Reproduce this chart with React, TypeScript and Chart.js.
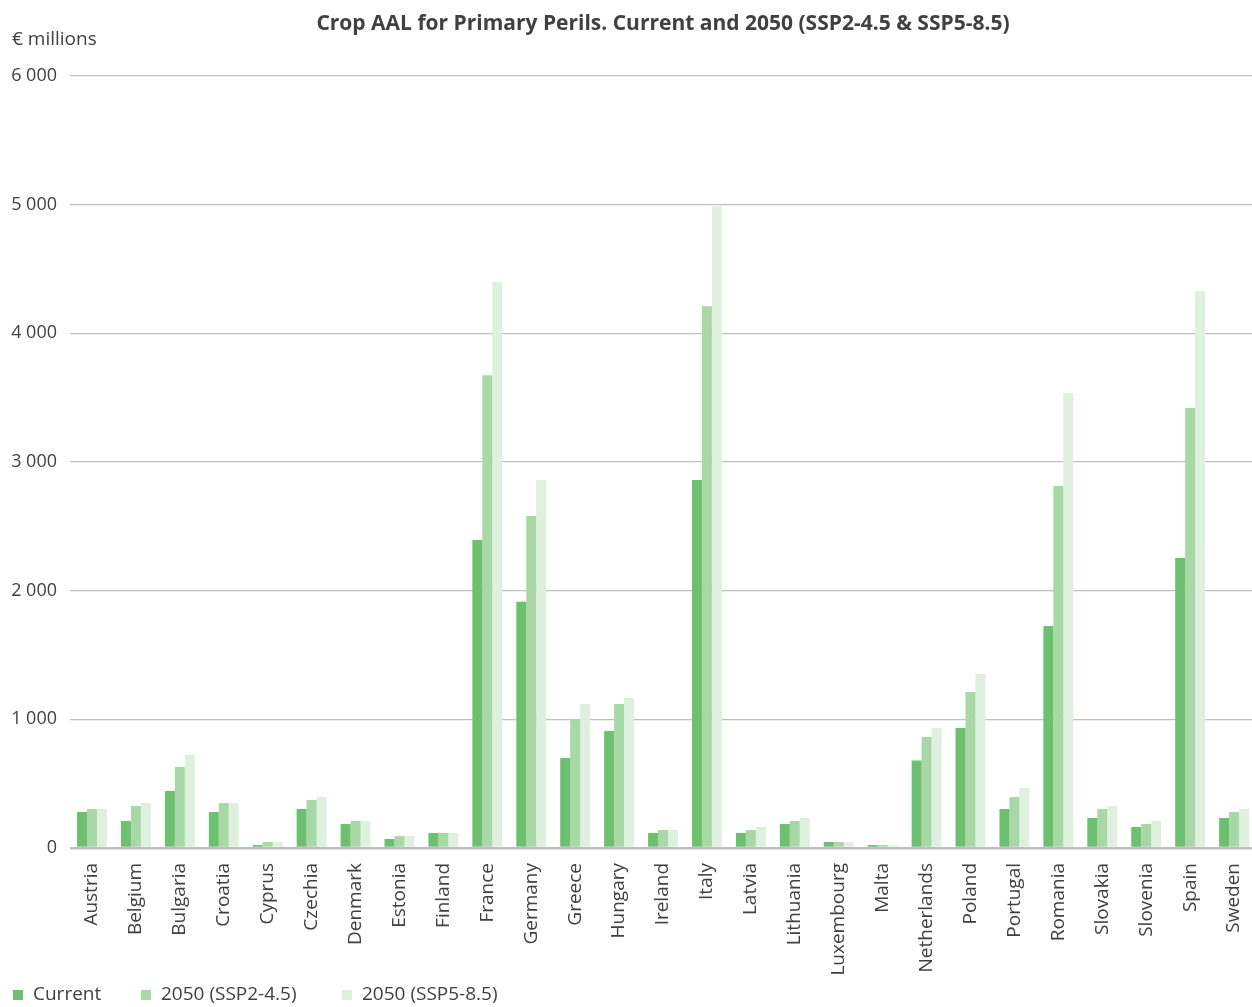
import React, { useEffect, useRef } from "react";
import { Chart, registerables } from "chart.js";

Chart.register(...registerables);

const countries = [
  "Austria", "Belgium", "Bulgaria", "Croatia", "Cyprus", "Czechia", "Denmark", "Estonia", "Finland",
  "France", "Germany", "Greece", "Hungary", "Ireland", "Italy", "Latvia", "Lithuania", "Luxembourg",
  "Malta", "Netherlands", "Poland", "Portugal", "Romania", "Slovakia", "Slovenia", "Spain", "Sweden",
];

const current = [
  280, 210, 443, 280, 23, 303, 186, 70, 117,
  2393, 1914, 700, 909, 117, 2860, 117, 186, 47,
  23, 680, 932, 303, 1725, 233, 163, 2253, 233,
];

const ssp245 = [
  303, 326, 630, 350, 47, 373, 210, 93, 117,
  3675, 2580, 1002, 1119, 140, 4211, 140, 210, 47,
  23, 862, 1212, 396, 2813, 303, 186, 3419, 280,
];

const ssp585 = [
  303, 350, 723, 350, 47, 396, 210, 93, 117,
  4398, 2860, 1119, 1165, 140, 4988, 163, 233, 47,
  20, 932, 1352, 466, 3535, 326, 210, 4328, 303,
];

const seriesNames = ["Current", "2050 (SSP2-4.5)", "2050 (SSP5-8.5)"];
const seriesColors = ["#6CC070", "#A8D8A6", "#DFF0DF"];
const yTicks = [0, 1000, 2000, 3000, 4000, 5000, 6000];

const titleText = "Crop AAL for Primary Perils. Current and 2050 (SSP2-4.5 & SSP5-8.5)";
const unitText = "€ millions";

const FONT = "'Open Sans', 'Noto Sans', sans-serif";
const TEXT_COLOR = "#404040";

const fmt = (v: number) => {
  const s = Math.round(v).toString();
  return s.replace(/\B(?=(\d{3})+(?!\d))/g, " ");
};

const decorPlugin = {
  id: "decor",
  afterDraw(chart: any) {
    const ctx = chart.ctx as CanvasRenderingContext2D;
    ctx.save();
    ctx.fillStyle = TEXT_COLOR;
    // title
    ctx.font = `bold 21px ${FONT}`;
    ctx.textAlign = "center";
    ctx.textBaseline = "middle";
    ctx.fillText(titleText, 663, 24);
    // unit
    ctx.font = `19px ${FONT}`;
    ctx.textAlign = "left";
    ctx.fillText(unitText, 12, 40);
    // legend
    const legendX = [13, 141, 342];
    const ly = 995;
    ctx.font = `19px ${FONT}`;
    seriesNames.forEach((name, i) => {
      ctx.fillStyle = seriesColors[i];
      ctx.fillRect(legendX[i], ly - 5, 10, 10);
      ctx.fillStyle = TEXT_COLOR;
      ctx.textAlign = "left";
      ctx.textBaseline = "middle";
      ctx.fillText(name, legendX[i] + 20, ly);
    });
    ctx.restore();
  },
};

export default function App() {
  const ref = useRef<HTMLCanvasElement | null>(null);

  useEffect(() => {
    document.body.style.margin = "0";
    if (!ref.current) return;
    const chart = new Chart(ref.current, {
      type: "bar",
      data: {
        labels: countries,
        datasets: [current, ssp245, ssp585].map((d, i) => ({
          label: seriesNames[i],
          data: d,
          backgroundColor: seriesColors[i],
          borderWidth: 0,
          barPercentage: 1,
          categoryPercentage: 0.68,
        })),
      },
      options: {
        responsive: false,
        animation: false,
        layout: { padding: { top: 76, bottom: 30, left: 0, right: 0 } },
        plugins: {
          legend: { display: false },
          title: { display: false },
          tooltip: { enabled: false },
        },
        scales: {
          x: {
            grid: { display: false },
            border: { display: false },
            ticks: {
              color: TEXT_COLOR,
              font: { family: FONT, size: 19 },
              maxRotation: 90,
              minRotation: 90,
              autoSkip: false,
              padding: 7,
            },
            afterFit: (s: any) => {
              s.height = 129;
              s.paddingLeft = 0;
              s.paddingRight = 0;
            },
          },
          y: {
            min: 0,
            max: 6000,
            afterBuildTicks: (s: any) => {
              s.ticks = yTicks.map((v) => ({ value: v }));
            },
            grid: {
              color: "#BFBFBF",
              lineWidth: (c: any) => (c.tick && c.tick.value === 0 ? 2.5 : 1.3),
              drawTicks: false,
            },
            border: { display: false },
            ticks: {
              color: TEXT_COLOR,
              font: { family: FONT, size: 18 },
              padding: 13,
              callback: (v: any) => fmt(Number(v)),
            },
            afterFit: (s: any) => {
              s.width = 70;
            },
          },
        },
      },
      plugins: [decorPlugin],
    });
    return () => chart.destroy();
  }, []);

  return (
    <div style={{ width: 1252, height: 1007, overflow: "hidden", position: "relative" }}>
      <canvas ref={ref} width={1256} height={1007} style={{ display: "block" }} />
    </div>
  );
}
